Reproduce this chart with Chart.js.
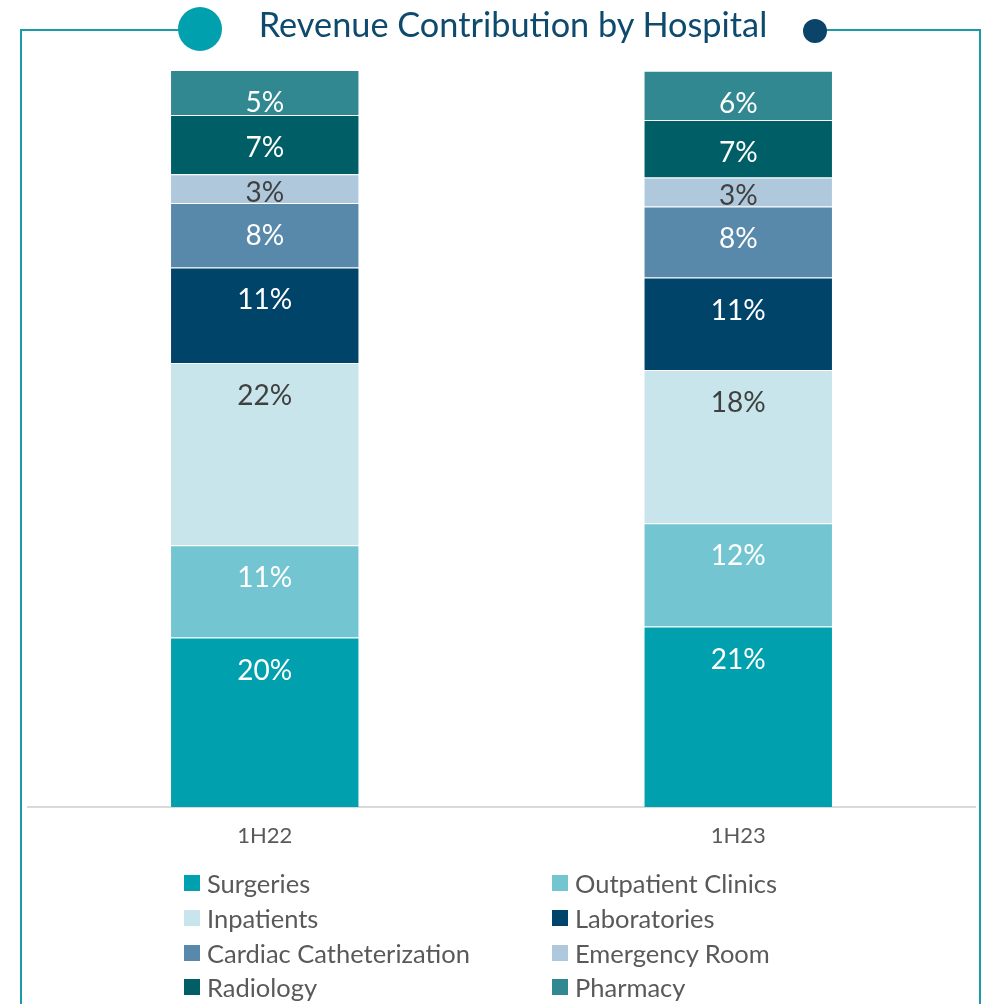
<!DOCTYPE html>
<html>
<head>
<meta charset="utf-8">
<script src="https://cdn.jsdelivr.net/npm/chart.js@4.4.1/dist/chart.umd.min.js"></script>
<style>
  html, body { margin: 0; padding: 0; background: #ffffff; }
  #wrap { position: relative; width: 982px; height: 1004px; overflow: hidden; font-family: Lato, "Open Sans", sans-serif; }
  #chart { position: absolute; left: 0; top: 0; }
  #frame { position: absolute; left: 0; top: 0; }
  #title { position: absolute; left: 0; width: 1026px; top: 4px; line-height: 40px; text-align: center; font-size: 34.3px; color: #0E4A6E; white-space: nowrap; }
  #legend { position: absolute; left: 0; top: 0; width: 982px; height: 1004px; pointer-events: none; }
  .lg-item { position: absolute; display: flex; align-items: center; font-size: 25.5px; color: #595959; white-space: nowrap; height: 30px; }
  .lg-box { width: 16px; height: 16px; margin-right: 7px; flex: none; }
</style>
</head>
<body>
<div id="wrap">
  <canvas id="chart" width="982" height="1004"></canvas>
  <svg id="frame" width="982" height="1004">
    <polyline points="21,1004 21,30 200,30" fill="none" stroke="#1C9BA7" stroke-width="2"/>
    <polyline points="815,30 980,30 980,1004" fill="none" stroke="#1C9BA7" stroke-width="2"/>
    <circle cx="200" cy="29" r="22" fill="#00A0AF"/>
    <circle cx="815" cy="31" r="12" fill="#0B4468"/>
  </svg>
  <div id="title">Revenue Contribution by Hospital</div>
  <div id="legend"></div>
</div>
<script>
const periods = ["1H22", "1H23"];
const seriesNames = ["Surgeries", "Outpatient Clinics", "Inpatients", "Laboratories", "Cardiac Catheterization", "Emergency Room", "Radiology", "Pharmacy"];
const surgeries = [20.0, 21.3];
const outpatientClinics = [10.9, 12.2];
const inpatients = [21.5, 18.1];
const laboratories = [11.3, 10.9];
const cardiacCatheterization = [7.6, 8.4];
const emergencyRoom = [3.4, 3.4];
const radiology = [7.0, 6.8];
const pharmacy = [5.3, 5.8];

const seriesValues = [surgeries, outpatientClinics, inpatients, laboratories, cardiacCatheterization, emergencyRoom, radiology, pharmacy];
const seriesColors = ["#00A0AF", "#73C6D1", "#C7E5EB", "#00446A", "#5889AB", "#B0C8DC", "#005F66", "#318891"];
const labelColors = ["#FFFFFF", "#FFFFFF", "#404040", "#FFFFFF", "#FFFFFF", "#404040", "#FFFFFF", "#FFFFFF"];

const stackTotals = periods.map((p, i) => seriesValues.reduce((s, arr) => s + arr[i], 0));
const yMax = Math.max(...stackTotals);

const datasets = seriesNames.map((name, k) => ({
  label: name,
  data: seriesValues[k],
  backgroundColor: seriesColors[k],
  borderColor: "rgba(255,255,255,0.25)",
  borderWidth: 1,
  borderSkipped: "bottom",
  categoryPercentage: 0.4,
  barPercentage: 1.0
}));

const segmentLabels = {
  id: "segmentLabels",
  afterDatasetsDraw(chart) {
    const ctx = chart.ctx;
    ctx.save();
    ctx.font = "28px Lato, 'Open Sans', sans-serif";
    ctx.textAlign = "center";
    ctx.textBaseline = "middle";
    chart.data.datasets.forEach((ds, k) => {
      const meta = chart.getDatasetMeta(k);
      meta.data.forEach((bar, i) => {
        const top = Math.min(bar.y, bar.base);
        const bottom = Math.max(bar.y, bar.base);
        const cy = Math.min(top + 33, bottom - 10);
        ctx.fillStyle = labelColors[k];
        ctx.fillText(Math.round(ds.data[i]) + "%", bar.x, cy);
      });
    });
    ctx.restore();
  }
};

const chart = new Chart(document.getElementById("chart"), {
  type: "bar",
  data: { labels: periods, datasets },
  options: {
    responsive: false,
    animation: false,
    devicePixelRatio: 1,
    layout: { padding: { left: 28, right: 7, top: 70, bottom: 134 } },
    plugins: { legend: { display: false }, tooltip: { enabled: false }, title: { display: false } },
    scales: {
      x: {
        stacked: true,
        grid: { display: false, drawTicks: false },
        border: { display: true, color: "#D9D9D9", width: 2 },
        ticks: { color: "#595959", font: { family: "Lato", size: 22 }, padding: 16 },
        afterFit(scale) { scale.height = 63; }
      },
      y: {
        stacked: true,
        display: false,
        min: 0,
        max: yMax
      }
    }
  },
  plugins: [segmentLabels]
});

// HTML legend built from the chart's datasets
const legendEl = document.getElementById("legend");
const colX = [184, 552];
const rowY = [883, 918, 953, 987];
chart.data.datasets.forEach((ds, k) => {
  const item = document.createElement("div");
  item.className = "lg-item";
  item.style.left = colX[k % 2] + "px";
  item.style.top = (rowY[Math.floor(k / 2)] - 15) + "px";
  const box = document.createElement("span");
  box.className = "lg-box";
  box.style.background = ds.backgroundColor;
  const txt = document.createElement("span");
  txt.textContent = ds.label;
  item.appendChild(box);
  item.appendChild(txt);
  legendEl.appendChild(item);
});
</script>
</body>
</html>
